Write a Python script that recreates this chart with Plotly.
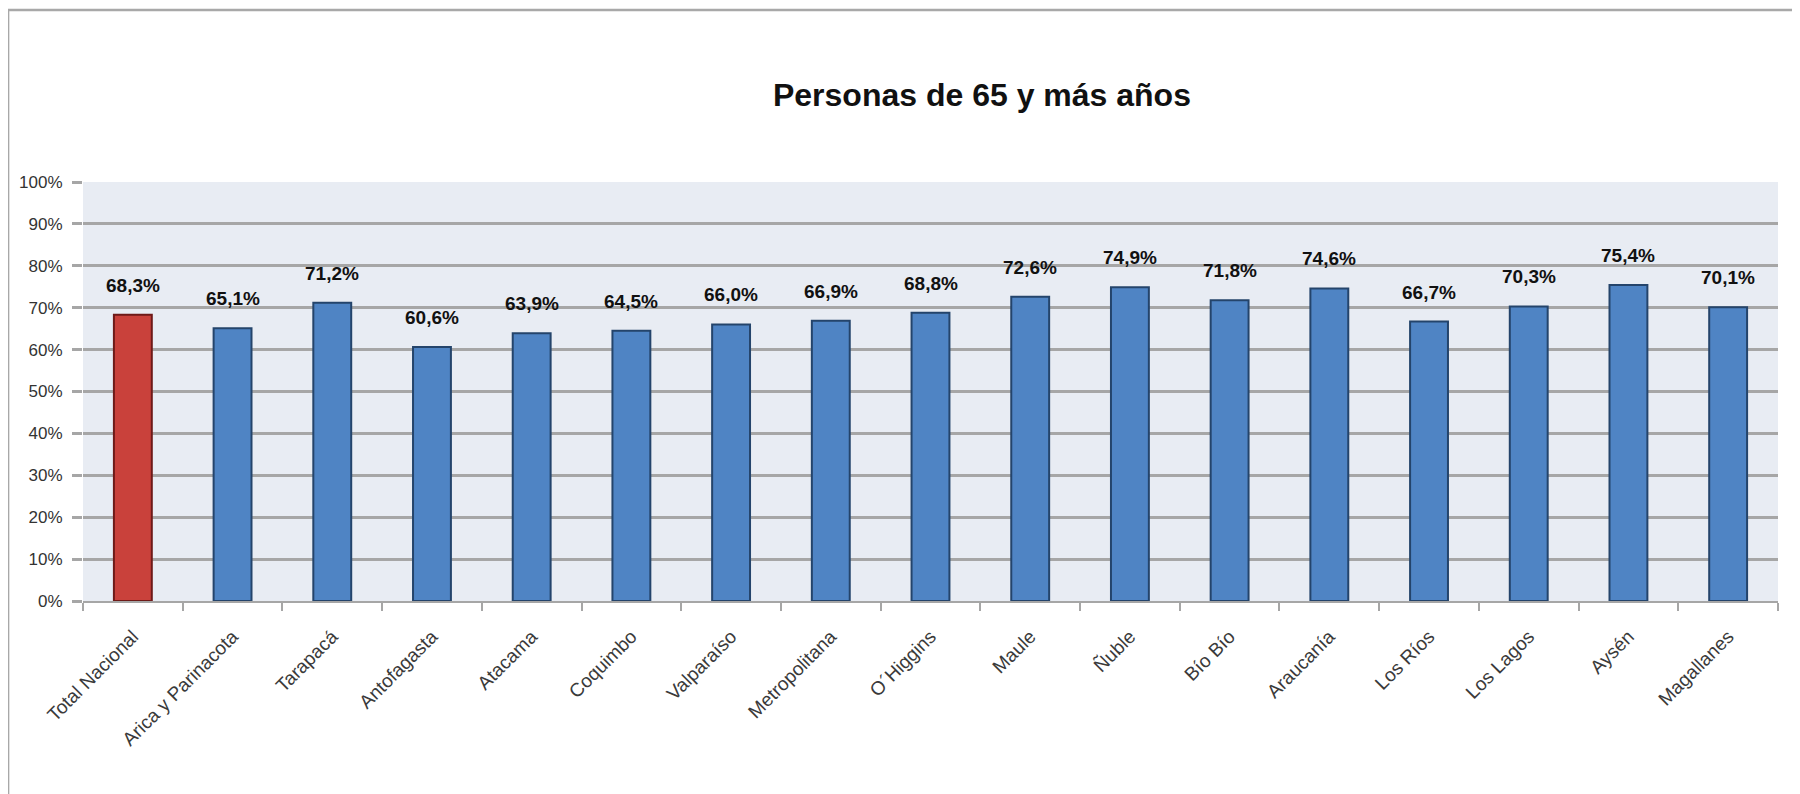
import plotly.graph_objects as go

regions = [
    "Total Nacional", "Arica y Parinacota", "Tarapacá", "Antofagasta", "Atacama",
    "Coquimbo", "Valparaíso", "Metropolitana", "O´Higgins", "Maule", "Ñuble",
    "Bío Bío", "Araucanía", "Los Ríos", "Los Lagos", "Aysén", "Magallanes",
]
pct_65_plus = [68.3, 65.1, 71.2, 60.6, 63.9, 64.5, 66.0, 66.9, 68.8, 72.6, 74.9,
               71.8, 74.6, 66.7, 70.3, 75.4, 70.1]
y_ticks = [0, 10, 20, 30, 40, 50, 60, 70, 80, 90, 100]
y_tick_text = [f"{t}%" for t in y_ticks]

FONT = "Liberation Sans, Arial, sans-serif"
BLUE, BLUE_EDGE = "#4F84C4", "#24446B"
RED, RED_EDGE = "#C9413B", "#6E1A18"

fill = [RED if r == "Total Nacional" else BLUE for r in regions]
edge = [RED_EDGE if r == "Total Nacional" else BLUE_EDGE for r in regions]

fig = go.Figure(
    go.Bar(
        x=regions,
        y=pct_65_plus,
        width=0.38,
        marker=dict(color=fill, line=dict(color=edge, width=2)),
        hoverinfo="x+y",
    )
)

for r, v in zip(regions, pct_65_plus):
    fig.add_annotation(
        x=r, y=v, text=f"{v:.1f}%".replace(".", ","),
        showarrow=False, yanchor="bottom", yshift=17,
        font=dict(family=FONT, size=19, color="#111111", weight="bold"),
    )

# outer chart frame (page body adds an 8px offset, figure is sized to fit)
fig.add_shape(
    type="rect", xref="paper", yref="paper",
    x0=-0.0442, x1=1.06, y0=-0.5, y1=1.4105,
    line=dict(color="#A8A8A8", width=2.5), fillcolor="rgba(0,0,0,0)", layer="below",
)

fig.update_layout(
    width=1792, height=786,
    margin=dict(l=75, r=22, t=174, b=193),
    paper_bgcolor="white",
    plot_bgcolor="#E8ECF3",
    showlegend=False,
    title=dict(
        text="Personas de 65 y más años",
        x=0.5435, xanchor="center", y=0.889, yanchor="middle",
        font=dict(family=FONT, size=32, color="#111111", weight="bold"),
    ),
)
fig.update_yaxes(
    range=[0, 100], tickvals=y_ticks, ticktext=y_tick_text,
    showgrid=True, gridcolor="#A6A6A6", gridwidth=3,
    ticks="outside", ticklen=10, tickcolor="#A6A6A6", tickwidth=3,
    ticklabelstandoff=6,
    tickfont=dict(family=FONT, size=17, color="#333333"),
    zeroline=False, fixedrange=True,
)
fig.update_xaxes(
    tickangle=-45, tickson="boundaries", ticks="outside", ticklen=8,
    tickcolor="#A6A6A6", tickwidth=1.5,
    showline=True, linecolor="#A6A6A6", linewidth=2,
    tickfont=dict(family=FONT, size=19, color="#3A3A3A"),
    ticklabelshift=0, ticklabelstandoff=15,
)

fig.write_html("out.html")
